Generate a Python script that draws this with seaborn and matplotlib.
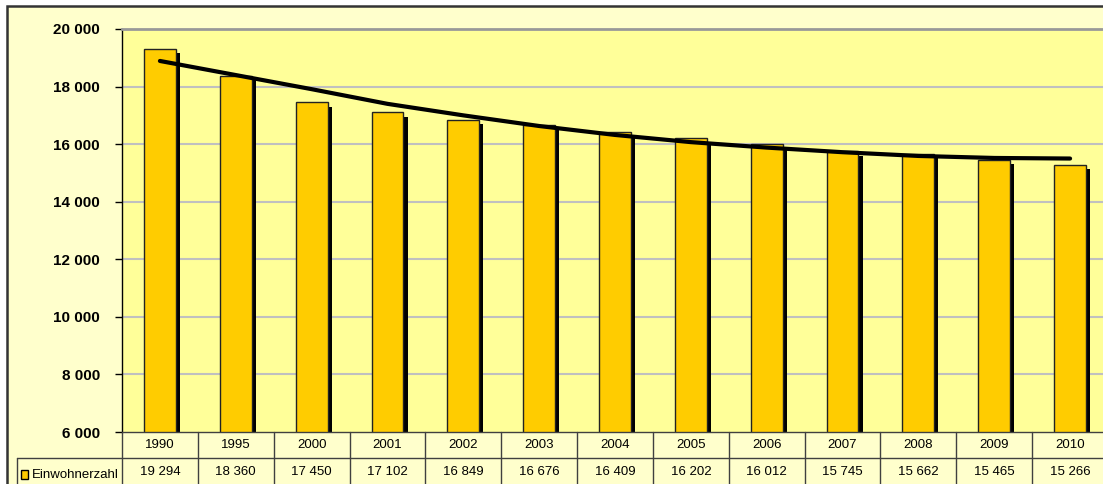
import numpy as np
import pandas as pd
import matplotlib
matplotlib.use("Agg")
import matplotlib.pyplot as plt
import matplotlib.patheffects as pe
from matplotlib.patches import Rectangle
from matplotlib.lines import Line2D
import seaborn as sns

# Population by year
years = ["1990", "1995", "2000", "2001", "2002", "2003", "2004",
         "2005", "2006", "2007", "2008", "2009", "2010"]
population = [19294, 18360, 17450, 17102, 16849, 16676, 16409,
              16202, 16012, 15745, 15662, 15465, 15266]
# Trend line readings at each year
trend = [18890, 18400, 17910, 17400, 17000, 16630, 16320,
         16070, 15880, 15720, 15590, 15520, 15500]
series_name = "Einwohnerzahl"
y_ticks = [6000, 8000, 10000, 12000, 14000, 16000, 18000, 20000]

sns.set_theme(style="white")
plt.rcParams["font.family"] = ["Liberation Sans", "DejaVu Sans"]

W, H = 1103, 484
fig = plt.figure(figsize=(W / 100, H / 100), dpi=100)
fig.patch.set_facecolor("white")


def fx(px):
    return px / W


def fy(py):
    return 1 - py / H


# Outer chart frame (behind everything)
fig.patches.append(Rectangle((fx(7), fy(500)), fx(1120) - fx(7), fy(6) - fy(500),
                             transform=fig.transFigure, facecolor="#FFFFCC",
                             edgecolor="#333333", lw=1.8, zorder=-10))

left, right, top, bottom = 122, 1108, 29, 432
ax = fig.add_axes([fx(left), fy(bottom), fx(right) - fx(left), fy(top) - fy(bottom)])
ax.set_facecolor("#FFFF99")

df = pd.DataFrame({"year": years, "pop": population})
sns.barplot(data=df, x="year", y="pop", color="#FFCC00", saturation=1,
            width=0.42, edgecolor="#222222", linewidth=1, ax=ax, zorder=3)
for p in ax.patches:
    p.set_path_effects([pe.SimplePatchShadow(offset=(3, -3), shadow_rgbFace="black", alpha=1),
                        pe.Normal()])

sns.lineplot(x=np.arange(len(years)), y=trend, color="black", lw=3, ax=ax, zorder=4)

ax.set_xlim(-0.5, len(years) - 0.5)
ax.set_ylim(6000, 20000)
ax.set_yticks(y_ticks)
ax.set_yticklabels([f"{v:,}".replace(",", " ") for v in y_ticks],
                   fontsize=11, fontweight="bold", color="black")
ax.tick_params(axis="y", left=True, length=5, width=1, color="black", pad=11)
ax.tick_params(axis="x", bottom=False, labelbottom=False)
ax.set_xlabel("")
ax.set_ylabel("")
for yv in y_ticks[1:-1]:
    ax.axhline(yv, color="#C0C0C0", lw=1.5, zorder=1)
ax.spines["left"].set_color("black")
ax.spines["left"].set_linewidth(1)
ax.spines["top"].set_color("#999999")
ax.spines["top"].set_linewidth(2)
ax.spines["right"].set_visible(False)
ax.spines["bottom"].set_visible(False)

# Data table below the plot
row1_top, row2_top, row2_bot = 432, 458, 486
label_left = 17
col_w = (right - left) / len(years)
lc = "#404040"


def hline(y, x0, x1):
    fig.add_artist(Line2D([fx(x0), fx(x1)], [fy(y), fy(y)], transform=fig.transFigure,
                          color=lc, lw=1, zorder=5))


def vline(x, y0, y1):
    fig.add_artist(Line2D([fx(x), fx(x)], [fy(y0), fy(y1)], transform=fig.transFigure,
                          color=lc, lw=1, zorder=5))


hline(row1_top, left, right)
hline(row2_top, label_left, right)
hline(row2_bot, label_left, right)
vline(label_left, row2_top, row2_bot)
for i in range(len(years) + 1):
    vline(left + i * col_w, row1_top, row2_bot)

for i, (yr, val) in enumerate(zip(years, population)):
    cx = left + (i + 0.5) * col_w
    fig.text(fx(cx), fy((row1_top + row2_top) / 2), yr, ha="center", va="center",
             fontsize=9.5, color="black", zorder=6)
    fig.text(fx(cx), fy((row2_top + row2_bot) / 2), f"{val:,}".replace(",", " "),
             ha="center", va="center", fontsize=9.5, color="black", zorder=6)

# Legend key inside the table
fig.patches.append(Rectangle((fx(21), fy(479)), fx(28) - fx(21), fy(470) - fy(479),
                             transform=fig.transFigure, facecolor="#FFCC00",
                             edgecolor="black", lw=1, zorder=6))
fig.text(fx(32), fy(474.5), series_name, ha="left", va="center", fontsize=9.5,
         color="black", zorder=6)

fig.savefig("out.png", dpi=100)
